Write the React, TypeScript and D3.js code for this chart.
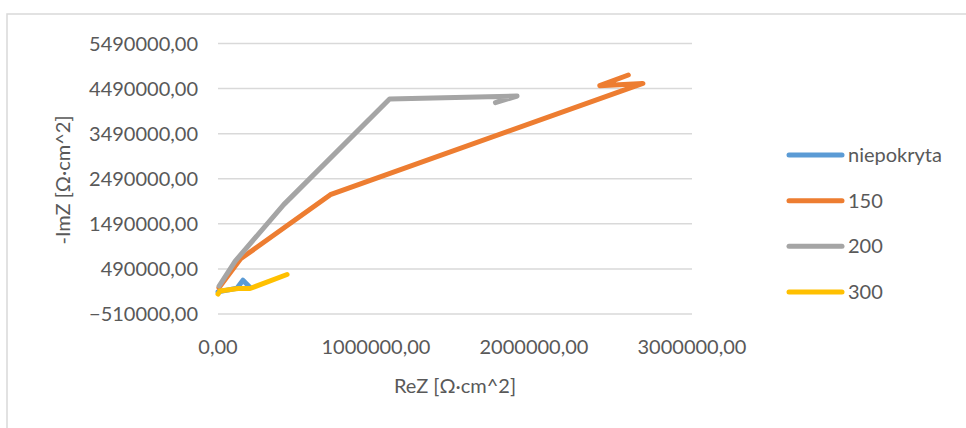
import React from 'react';
import * as d3 from 'd3';

// ReZ / -ImZ points, one list per series
const series = ['niepokryta', '150', '200', '300'];
const colors = ['#5B9BD5', '#ED7D31', '#A5A5A5', '#FFC000'];

const reNiepokryta = [0, 120000, 158000, 203000];
const imNiepokryta = [-20000, 60000, 240000, 80000];

const re150 = [6000, 143000, 711000, 2689000, 2416000, 2597000];
const im150 = [73000, 714000, 2136000, 4605000, 4554000, 4791000];

const re200 = [7000, 109000, 416000, 1086000, 1893000, 1756000];
const im200 = [111000, 663000, 1916000, 4259000, 4325000, 4179000];

const re300 = [0, 13000, 127000, 203000, 437000];
const im300 = [-67000, 0, 55000, 55000, 366000];

const xTicks = [0, 1000000, 2000000, 3000000];
const yTicks = [-510000, 490000, 1490000, 2490000, 3490000, 4490000, 5490000];

const W = 966;
const H = 428;
const font = 'Lato, "Open Sans", sans-serif';
const textColor = '#595959';

const fmt = (v: number) => d3.format('.2f')(v).replace('.', ',');

export default function App() {
  const x = d3.scaleLinear().domain([0, 3000000]).range([218, 692]);
  const y = d3.scaleLinear().domain([-510000, 5490000]).range([314, 43.5]);

  const data = [
    d3.zip(reNiepokryta, imNiepokryta),
    d3.zip(re150, im150),
    d3.zip(re200, im200),
    d3.zip(re300, im300),
  ];

  const line = d3
    .line<number[]>()
    .x((d) => x(d[0]))
    .y((d) => y(d[1]));

  const legendY = d3.scalePoint<string>().domain(series).range([155, 292]);

  return (
    <div style={{ position: 'absolute', left: 0, top: 0 }}>
      <svg width={W} height={H} style={{ display: 'block', fontFamily: font }}>
        <rect x={0} y={0} width={W} height={H} fill="#fff" />
        {/* chart area frame, runs past the right and bottom edges */}
        <rect x={7} y={14} width={W + 20} height={H + 20} fill="#fff" stroke="#D9D9D9" strokeWidth={1.5} />

        {/* horizontal gridlines */}
        {yTicks.map((t) => (
          <line key={'g' + t} x1={x(0)} x2={x(3000000)} y1={y(t)} y2={y(t)} stroke="#D9D9D9" strokeWidth={1.5} />
        ))}

        {/* y tick labels */}
        {yTicks.map((t) => (
          <text key={'y' + t} x={198} y={y(t)} dy="0.35em" textAnchor="end" fontSize={20} fill={textColor}>
            {fmt(t)}
          </text>
        ))}

        {/* x tick labels */}
        {xTicks.map((t) => (
          <text key={'x' + t} x={x(t)} y={347} dy="0.35em" textAnchor="middle" fontSize={20} fill={textColor}>
            {fmt(t)}
          </text>
        ))}

        {/* axis titles */}
        <text x={455} y={386} dy="0.35em" textAnchor="middle" fontSize={20} fill={textColor}>
          ReZ [Ω·cm^2]
        </text>
        <text
          transform={`translate(63,180) rotate(-90)`}
          dy="0.35em"
          textAnchor="middle"
          fontSize={20}
          fill={textColor}
        >
          -ImZ [Ω·cm^2]
        </text>

        {/* series */}
        {data.map((d, i) => (
          <path
            key={series[i]}
            d={line(d) || ''}
            fill="none"
            stroke={colors[i]}
            strokeWidth={5}
            strokeLinejoin="round"
            strokeLinecap="round"
          />
        ))}

        {/* legend */}
        {series.map((s, i) => (
          <g key={'l' + s} transform={`translate(0,${legendY(s)})`}>
            <line x1={789} x2={842} y1={0} y2={0} stroke={colors[i]} strokeWidth={5} strokeLinecap="round" />
            <text x={848} y={0} dy="0.35em" fontSize={20} fill={textColor}>
              {s}
            </text>
          </g>
        ))}
      </svg>
    </div>
  );
}
